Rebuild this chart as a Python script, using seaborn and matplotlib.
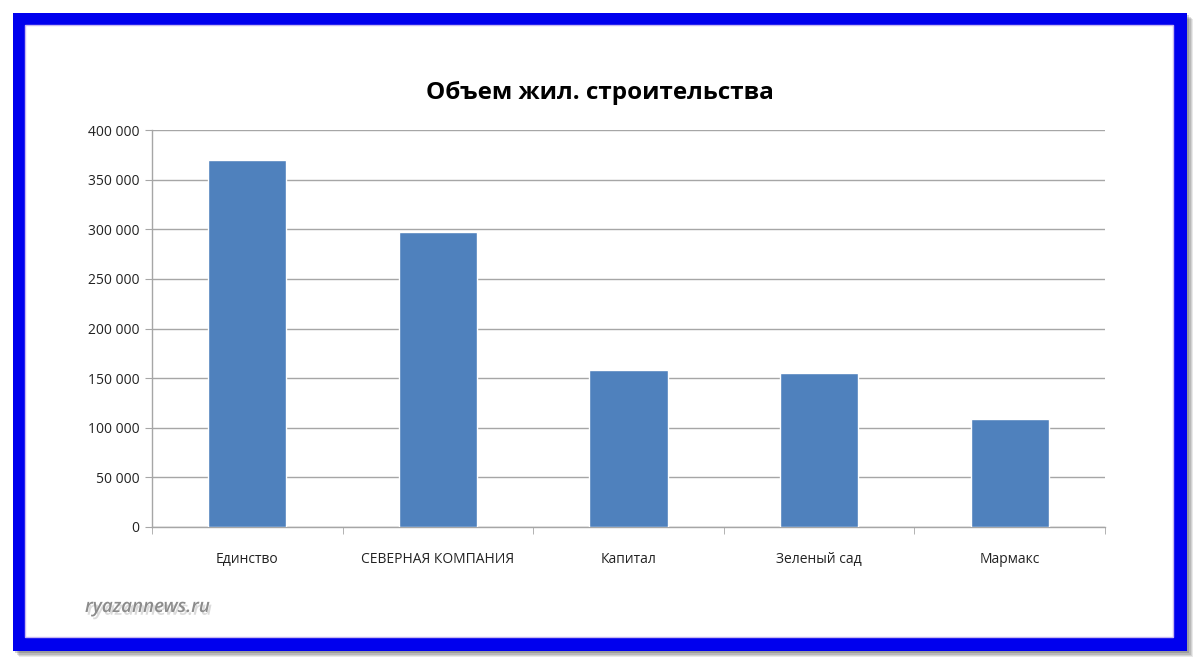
import numpy as np
import pandas as pd
import matplotlib
matplotlib.use('Agg')
import matplotlib.pyplot as plt
import matplotlib.patheffects as pe
import seaborn as sns
from matplotlib.patches import Rectangle
from matplotlib.ticker import FuncFormatter, FixedLocator

#-----------------------------------------------
companies=['Единство', 'СЕВЕРНАЯ КОМПАНИЯ', 'Капитал', 'Зеленый сад', 'Мармакс']
volume=[370000, 297000, 158000, 155000, 109000]
title='Объем жил. строительства'
watermark='ryazannews.ru'

#######################################################
sns.set_style('white')
plt.rcParams['font.family']=['Open Sans', 'DejaVu Sans']

df=pd.DataFrame({'company': companies, 'volume': volume})

W, H=1200, 664
fig=plt.figure(figsize=(W/100, H/100), dpi=100)
fig.patch.set_facecolor('white')

def box(x0, y0, x1, y1, **kw):
    #pixel coords (top-left origin) -> figure rect
    r=Rectangle((x0/W, 1-y1/H), (x1-x0)/W, (y1-y0)/H, transform=fig.transFigure, **kw)
    fig.patches.append(r)

#shadow + blue frame
for i, a in enumerate([0.10, 0.12, 0.15, 0.2]):
    d=6-i*1.2
    box(13+d, 13+d, 1187+d, 651+d, facecolor='#303030', alpha=a, edgecolor='none', zorder=0)
box(13, 13, 1187, 651, facecolor='#0000ee', edgecolor='none', zorder=1)
box(25, 25, 1173, 637, facecolor='white', edgecolor='#c8b8f0', lw=1, zorder=2)

ax=fig.add_axes([152/W, 1-527/H, (1105-152)/W, (527-130)/H], zorder=3)
ax.patch.set_alpha(0)
sns.barplot(data=df, x='company', y='volume', color='#4f81bd', width=0.41,
            saturation=1, ax=ax, zorder=3)

ax.set_ylim(0, 400000)
ax.set_xlim(-0.5, len(companies)-0.5)
ax.set_yticks(np.arange(0, 400001, 50000))
ax.yaxis.set_major_formatter(FuncFormatter(lambda v, pos: f'{int(v):,}'.replace(',', ' ')))
ax.yaxis.grid(True, color='#a6a6a6', lw=1)
ax.set_axisbelow(True)
for s in ['top', 'right']:
    ax.spines[s].set_visible(False)
for s in ['left', 'bottom']:
    ax.spines[s].set_color('#a6a6a6')
    ax.spines[s].set_linewidth(1)
ax.tick_params(axis='y', which='major', length=5, color='#a6a6a6', labelsize=10, labelcolor='#222222', pad=4, left=True)
ax.tick_params(axis='x', which='major', length=0, labelsize=10, labelcolor='#222222', pad=18)
ax.xaxis.set_minor_locator(FixedLocator(np.arange(-0.5, len(companies), 1.0)))
ax.tick_params(axis='x', which='minor', length=5, color='#a6a6a6', bottom=True)
ax.set_xlabel('')
ax.set_ylabel('')

fig.text(600/W, 1-93/H, title, ha='center', va='center', fontsize=17.5, weight='bold', color='black')

#watermark with soft shadow
fig.text(85/W, 1-607/H, watermark, ha='left', va='center', fontsize=13.5, style='italic',
         weight='semibold', color='#8c8c8c', zorder=5,
         path_effects=[pe.withSimplePatchShadow(offset=(1.5, -2), shadow_rgbFace='#999999', alpha=0.35)])

plt.savefig('out.png', dpi=100)
plt.close()
